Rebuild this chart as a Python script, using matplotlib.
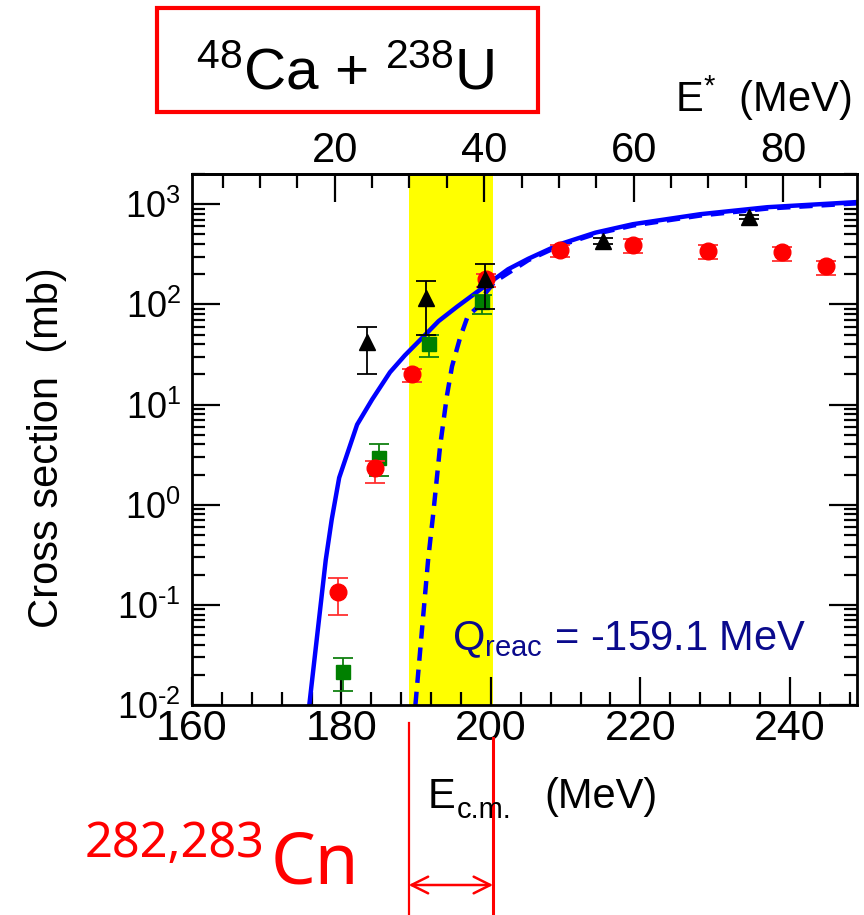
import matplotlib
matplotlib.use('Agg')
import matplotlib.pyplot as plt
from matplotlib.ticker import MultipleLocator, LogLocator, NullFormatter, FixedLocator
from matplotlib.patches import Rectangle
from matplotlib.lines import Line2D
from matplotlib.transforms import blended_transform_factory
import numpy as np

plt.rcParams['font.family'] = ['Liberation Sans', 'DejaVu Sans']
plt.rcParams['mathtext.fontset'] = 'custom'
plt.rcParams['mathtext.rm'] = 'Liberation Sans'
plt.rcParams['mathtext.it'] = 'Liberation Sans:italic'
plt.rcParams['mathtext.bf'] = 'Liberation Sans:bold'
plt.rcParams['mathtext.default'] = 'regular'

Q_REAC = -159.1

# measured cross sections (mb) with lower / upper error ends
red_x = [179.5, 184.5, 189.5, 199.4, 209.3, 219.0, 229.1, 239.0, 244.9]
red_y = [0.135, 2.3, 20, 178, 347, 389, 339, 331, 240]
red_lo = [0.079, 1.66, 16.6, 148, 295, 324, 282, 269, 195]
red_hi = [0.186, 2.7, 22.4, 200, 389, 447, 390, 372, 269]

tri_x = [183.4, 191.3, 199.2, 215.0, 234.6]
tri_y = [41.7, 115, 178, 427, 741]
tri_lo = [20, 49, 89, 400, 705]
tri_hi = [60, 170, 251, 457, 776]

sq_x = [180.2, 185.0, 191.7, 198.8]
sq_y = [0.0214, 2.95, 40, 105]
sq_lo = [0.0138, 1.95, 30, 81]
sq_hi = [0.0295, 4.0, 50, 123]

# calculated capture cross section (solid) and with barrier cut (dashed)
calc_x = [175.7, 177.9, 178.7, 179.7, 182.1, 184.1, 186.5, 188.5, 190.9, 193.0,
          195.5, 199.9, 202.3, 205.0, 209.3, 214.0, 219.0, 228.0, 237.0, 249.0]
calc_y = [0.01, 0.28, 0.71, 1.86, 6.3, 11.2, 21, 31, 47, 68,
          95, 166, 224, 285, 400, 520, 631, 794, 933, 1050]

dash_x = [189.9, 191.6, 192.3, 193.2, 194.1, 194.8, 195.9, 196.9, 198.3, 199.3,
          200.5, 205.0, 209.3, 214.0, 219.0, 228.0, 237.0, 249.0]
dash_y = [0.01, 0.28, 0.83, 3.8, 12, 24, 47, 76, 95, 130,
          168, 276, 388, 505, 612, 770, 905, 1020]

band = (189.0, 200.3)
estar_ticks = [20, 40, 60, 80]
y_ticks = [1e-2, 1e-1, 1e0, 1e1, 1e2, 1e3]
y_ticklabels = [r'$10^{\text{-}2}$', r'$10^{\text{-}1}$', r'$10^{0}$',
                r'$10^{1}$', r'$10^{2}$', r'$10^{3}$']


def yerr(y, lo, hi):
    y, lo, hi = map(np.array, (y, lo, hi))
    return [y - lo, hi - y]


fig = plt.figure(figsize=(8.64, 9.15), dpi=100)
ax = fig.add_axes([0.2222, 0.2295, 0.7697, 0.5803])

ax.axvspan(*band, color='#ffff00', zorder=0, lw=0)
ax.plot(dash_x, dash_y, color='#0000ff', lw=3.2, ls=(0, (3, 2)), zorder=2)
ax.plot(calc_x, calc_y, color='#0000ff', lw=3.2, zorder=2.5)

ax.errorbar(sq_x, sq_y, yerr=yerr(sq_y, sq_lo, sq_hi), fmt='s', color='#008000',
            ms=10, ecolor='#108010', elinewidth=1.3, capsize=7, capthick=1.3, zorder=3)
ax.errorbar(red_x, red_y, yerr=yerr(red_y, red_lo, red_hi), fmt='o', color='#ff0000',
            ms=12, ecolor='#ff3030', elinewidth=1.3, capsize=7, capthick=1.3, zorder=4)
ax.errorbar(tri_x, tri_y, yerr=yerr(tri_y, tri_lo, tri_hi), fmt='^', color='black',
            ms=11, ecolor='black', elinewidth=1.3, capsize=7, capthick=1.3, zorder=5)

ax.set_yscale('log')
ax.set_xlim(160, 249)
ax.set_ylim(1e-2, 2e3)

ax.xaxis.set_major_locator(MultipleLocator(20))
ax.xaxis.set_minor_locator(MultipleLocator(4))
ax.yaxis.set_major_locator(FixedLocator(y_ticks))
ax.yaxis.set_minor_locator(LogLocator(base=10, subs=np.arange(2, 10), numticks=20))
ax.yaxis.set_minor_formatter(NullFormatter())
ax.set_yticklabels(y_ticklabels)

ax.tick_params(axis='x', which='both', direction='in', top=False, bottom=True,
               labelsize=31, pad=3)
ax.tick_params(axis='y', which='both', direction='in', left=True, right=True,
               labelsize=26, pad=8)
ax.tick_params(which='major', length=20, width=1.6)
ax.tick_params(which='minor', length=9.5, width=1.6)
for s in ax.spines.values():
    s.set_linewidth(2)

secax = ax.secondary_xaxis('top', functions=(lambda e: e + Q_REAC, lambda e: e - Q_REAC))
secax.set_xticks(estar_ticks)
secax.xaxis.set_minor_locator(MultipleLocator(5))
secax.tick_params(which='both', direction='in', labelsize=30, pad=2)
secax.tick_params(which='major', length=20, width=1.6)
secax.tick_params(which='minor', length=10, width=1.6)
secax.spines['top'].set_linewidth(2)

ax.set_ylabel('Cross section  (mb)', fontsize=30)
ax.yaxis.set_label_coords(-0.188, 0.484)

ax.text(194.8, 0.1036, r'Q$_{\mathrm{reac}}$ = -159.1 MeV', transform=blended_transform_factory(ax.transData, ax.transAxes),
        color='#0a0a8c', fontsize=30, va='baseline', ha='left', zorder=6)

# bottom axis title, E with subscript c.m.
fig.text(428 / 864, 1 - 808 / 915, 'E', fontsize=30, va='baseline', ha='left')
fig.text(457 / 864, 1 - 818 / 915, 'c.m.', fontsize=21, va='baseline', ha='left')
fig.text(544 / 864, 1 - 808 / 915, '(MeV)', fontsize=30, va='baseline', ha='left')
fig.text(675 / 864, 1 - 112 / 915, r'E$^{*}$  (MeV)', fontsize=30, va='baseline', ha='left')

# reaction title box
fig.patches.append(Rectangle((157 / 864, 1 - 112 / 915), 381 / 864, 104 / 915, transform=fig.transFigure,
                             fill=False, edgecolor='#ff0000', lw=3))
fig.text(345 / 864, 1 - 75 / 915, r'$^{48}$Ca + $^{238}$U', fontsize=42, ha='center', va='center')

# compound nucleus label
fig.text(85 / 864, 1 - 857 / 915, '282,283', fontsize=35, color='#ff0000', family='Noto Sans',
         va='baseline', ha='left')
fig.text(271 / 864, 1 - 883 / 915, 'Cn', fontsize=51, color='#ff0000', family='Noto Sans',
         va='baseline', ha='left')

# energy window marker below the axis
tr = blended_transform_factory(ax.transData, fig.transFigure)
fig.add_artist(Line2D([band[0], band[0]], [0, 1 - 723 / 915], transform=tr, color='#ff0000', lw=1.6))
fig.add_artist(Line2D([band[1], band[1]], [0, 1 - 738 / 915], transform=tr, color='#ff0000', lw=2.2))
ax.annotate('', xy=(band[0], 1 - 885 / 915), xytext=(band[1], 1 - 885 / 915),
            xycoords=('data', 'figure fraction'), textcoords=('data', 'figure fraction'),
            arrowprops=dict(arrowstyle='<->', color='#ff0000', lw=1.8, mutation_scale=30,
                            shrinkA=0, shrinkB=0), annotation_clip=False)

fig.savefig('out.png', dpi=100)
